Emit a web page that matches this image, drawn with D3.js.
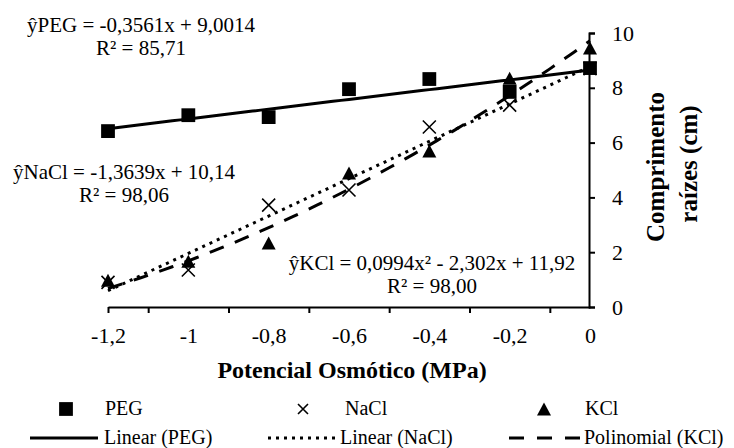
<!DOCTYPE html>
<html lang="pt">
<head>
<meta charset="utf-8">
<title>Comprimento de raízes</title>
<script src="https://cdn.jsdelivr.net/npm/d3@7"></script>
<style>
  body { margin: 0; background: #fff; }
  svg text { font-family: "Liberation Serif", "Times New Roman", serif; fill: #000; }
  .axis path, .axis line { stroke: #000; stroke-width: 2; }
  .axis text { font-size: 22px; }
  .eq { font-size: 21px; }
  .title { font-size: 24px; font-weight: bold; }
  .ytitle { font-size: 25px; font-weight: bold; }
  .leg { font-size: 20px; }
</style>
</head>
<body>
<script>
// data
var potentials = [-1.2, -1.0, -0.8, -0.6, -0.4, -0.2, 0];
var peg  = [6.42, 7.0, 6.93, 7.95, 8.32, 7.85, 8.72];
var nacl = [0.9, 1.35, 3.72, 4.27, 6.57, 7.37, 8.7];
var kcl  = [0.9, 1.6, 2.26, 4.82, 5.62, 8.28, 9.38];

// trend coefficients as printed (x = treatment index, 1 at 0 MPa)
var pegCoef  = [9.0014, -0.3561];
var naclCoef = [10.14, -1.3639];
var kclCoef  = [11.92, -2.302, 0.0994];

var xTicks = [-1.2, -1.1, -0.9, -0.7, -0.5, -0.3, -0.1];
var yTicks = [0, 2, 4, 6, 8, 10];

var w = 734, h = 448;

var x = d3.scaleLinear().domain([-1.2, 0]).range([108, 590]);
var y = d3.scaleLinear().domain([0, 10]).range([307, 33]);

var svg = d3.select("body").append("svg")
  .attr("width", w)
  .attr("height", h);

// axes
svg.append("g")
  .attr("class", "axis")
  .attr("transform", "translate(0,307)")
  .call(d3.axisBottom(x).tickValues(xTicks).tickSize(6).tickSizeOuter(0).tickFormat(""));

svg.append("g")
  .attr("class", "axis")
  .attr("transform", "translate(0,307)")
  .call(d3.axisBottom(x).tickValues(potentials).tickSize(0).tickPadding(20)
    .tickFormat(function(d) { return String(+d.toFixed(1)).replace(".", ","); }))
  .call(function(g) { g.select(".domain").remove(); });

svg.append("g")
  .attr("class", "axis")
  .attr("transform", "translate(589,0)")
  .call(d3.axisRight(y).tickValues(yTicks).tickSize(6).tickSizeOuter(6).tickPadding(17));

svg.selectAll(".axis").attr("font-family", null).attr("font-size", null);

// trend lines
function idx(p) { return 1 - p * 5; }
function poly(c) {
  return function(p) {
    var t = idx(p), s = 0;
    c.forEach(function(k, i) { s += k * Math.pow(t, i); });
    return s;
  };
}
var samples = d3.range(-1.2, 0.0001, 0.02);
var line = d3.line().x(function(d) { return x(d[0]); }).y(function(d) { return y(d[1]); });

function trend(coef, dash) {
  var f = poly(coef);
  svg.append("path")
    .datum(samples.map(function(p) { return [p, f(p)]; }))
    .attr("d", line)
    .attr("fill", "none")
    .attr("stroke", "#000")
    .attr("stroke-width", 3)
    .attr("stroke-dasharray", dash);
}
trend(pegCoef, null);
trend(naclCoef, "3,5");
trend(kclCoef, "15,12");

// markers
var sq = d3.symbol().type(d3.symbolSquare).size(190);
var tri = "M0,-8.5L7,4.5L-7,4.5Z";
function xMark(cx, cy, r) {
  return "M" + (cx - r) + "," + (cy - r) + "L" + (cx + r) + "," + (cy + r) +
         "M" + (cx - r) + "," + (cy + r) + "L" + (cx + r) + "," + (cy - r);
}

svg.append("g").selectAll("path").data(peg).join("path")
  .attr("d", sq)
  .attr("transform", function(d, i) { return "translate(" + x(potentials[i]) + "," + y(d) + ")"; })
  .attr("fill", "#000");

svg.append("g").selectAll("path").data(nacl).join("path")
  .attr("d", function(d, i) { return xMark(x(potentials[i]), y(d), 6.5); })
  .attr("stroke", "#000")
  .attr("stroke-width", 1.6)
  .attr("fill", "none");

svg.append("g").selectAll("path").data(kcl).join("path")
  .attr("d", tri)
  .attr("transform", function(d, i) { return "translate(" + x(potentials[i]) + "," + y(d) + ")"; })
  .attr("fill", "#000");

// equations
function eq(cx, y1, t1, t2) {
  svg.append("text").attr("class", "eq").attr("x", cx).attr("y", y1)
    .attr("text-anchor", "middle").text(t1);
  svg.append("text").attr("class", "eq").attr("x", cx).attr("y", y1 + 23)
    .attr("text-anchor", "middle").text(t2);
}
eq(141, 32, "ŷPEG = -0,3561x + 9,0014", "R² = 85,71");
eq(124, 179, "ŷNaCl = -1,3639x + 10,14", "R² = 98,06");
eq(432, 270, "ŷKCl = 0,0994x² - 2,302x + 11,92", "R² = 98,00");

// axis titles
svg.append("text").attr("class", "title")
  .attr("x", 352).attr("y", 378)
  .attr("text-anchor", "middle")
  .text("Potencial Osmótico (MPa)");

svg.append("text").attr("class", "ytitle")
  .attr("transform", "translate(664,167) rotate(-90)")
  .attr("text-anchor", "middle")
  .text("Comprimento");
svg.append("text").attr("class", "ytitle")
  .attr("transform", "translate(697,164) rotate(-90)")
  .attr("text-anchor", "middle")
  .text("raízes (cm)");

// legend
var leg = svg.append("g");
leg.append("path").attr("d", sq).attr("transform", "translate(66,409)").attr("fill", "#000");
leg.append("text").attr("class", "leg").attr("x", 105).attr("y", 415).text("PEG");
leg.append("path").attr("d", xMark(303, 409, 5)).attr("stroke", "#000").attr("stroke-width", 1.6);
leg.append("text").attr("class", "leg").attr("x", 345).attr("y", 415).text("NaCl");
leg.append("path").attr("d", tri).attr("transform", "translate(544,411)").attr("fill", "#000");
leg.append("text").attr("class", "leg").attr("x", 585).attr("y", 415).text("KCl");

[[30, 98, null, "Linear (PEG)", 104],
 [268, 336, "3,5", "Linear (NaCl)", 340],
 [509, 580, "15,13", "Polinomial (KCl)", 584]].forEach(function(r) {
  leg.append("line").attr("x1", r[0]).attr("x2", r[1]).attr("y1", 438).attr("y2", 438)
    .attr("stroke", "#000").attr("stroke-width", 3).attr("stroke-dasharray", r[2]);
  leg.append("text").attr("class", "leg").attr("x", r[4]).attr("y", 444).text(r[3]);
});
</script>
</body>
</html>
